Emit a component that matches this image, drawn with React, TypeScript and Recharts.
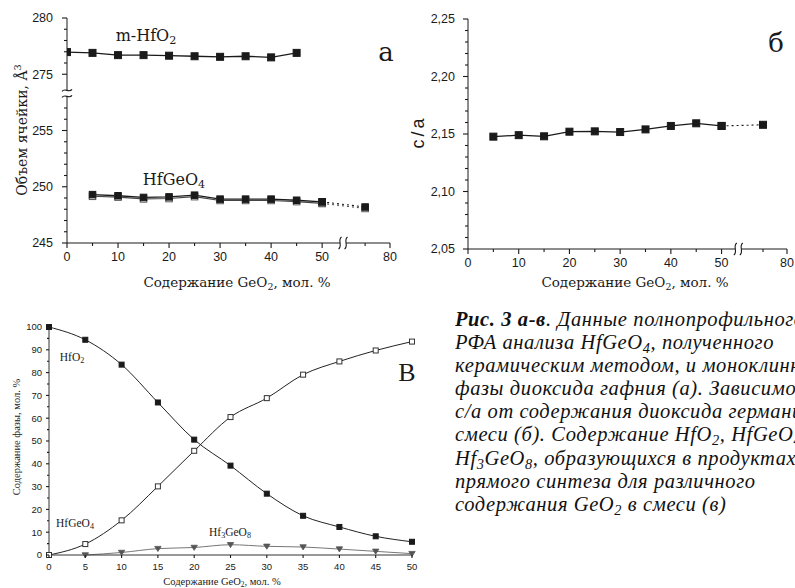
import React from 'react';
import { LineChart, Line, XAxis, YAxis } from 'recharts';

// ---------- Panel а: cell volume, Å³ ----------
const compHfO2A = [0, 5, 10, 15, 20, 25, 30, 35, 40, 45];
const volHfO2 = [276.97, 276.9, 276.7, 276.7, 276.65, 276.6, 276.55, 276.6, 276.5, 276.9];
const compHfGeO4A = [5, 10, 15, 20, 25, 30, 35, 40, 45, 50, 69];
const volHfGeO4Filled = [249.3, 249.2, 249.05, 249.1, 249.25, 248.9, 248.9, 248.9, 248.8, 248.66, 248.2];
const volHfGeO4Open = [249.15, 249.08, 248.92, 248.95, 249.12, 248.78, 248.78, 248.78, 248.68, 248.52, 248.07];

// ---------- Panel б: c/a ----------
const compCA = [5, 10, 15, 20, 25, 30, 35, 40, 45, 50, 69];
const ratioCA = [2.1477, 2.149, 2.148, 2.152, 2.1523, 2.1517, 2.154, 2.157, 2.1593, 2.157, 2.158];

// ---------- Panel в: phase content, mol. % ----------
const compPhase = [0, 5, 10, 15, 20, 25, 30, 35, 40, 45, 50];
const phaseHfO2 = [100, 94.4, 83.5, 66.9, 50.6, 39.2, 26.9, 17.2, 12.3, 8.2, 5.8];
const phaseHfGeO4 = [0, 4.8, 15.2, 30.1, 45.7, 60.5, 68.8, 79.1, 84.9, 89.7, 93.6];
const compHf3GeO8 = [5, 10, 15, 20, 25, 30, 35, 40, 45, 50];
const phaseHf3GeO8 = [0, 1.1, 2.8, 3.3, 4.5, 3.8, 3.5, 2.6, 1.6, 0.6];

// ---------- axis tick labels ----------
const xMajorTop = [0, 10, 20, 30, 40, 50, 80];
const yMajorA = [245, 250, 255, 275, 280];
const yMajorB = [2.05, 2.1, 2.15, 2.2, 2.25];
const xMajorV = [0, 5, 10, 15, 20, 25, 30, 35, 40, 45, 50];
const yMajorV = [0, 10, 20, 30, 40, 50, 60, 70, 80, 90, 100];

// broken-axis helpers (display coordinates)
const brkXA = (v: number) => (v <= 50 ? v : 50 + (v - 50) * (13.3 / 30));
const brkXB = (v: number) => (v <= 50 ? v : 50 + (v - 50) * (12.9 / 30));
const brkYA = (v: number) => (v >= 270 ? v - 15 : v);
const unbrkYA = (v: number) => (v >= 259 ? v + 15 : v);

const zip = (xs: number[], ys: number[], fx = (v: number) => v, fy = (v: number) => v) =>
  xs.map((x, i) => ({ x: fx(x), y: fy(ys[i]) }));

const INK = '#1a1a1a';
const SANS = '"Liberation Sans", Arial, sans-serif';
const SERIF_W = '"DejaVu Serif", serif';
const SERIF_T = '"Liberation Serif", "Times New Roman", serif';

const squareDot = (size: number, fill: string, stroke: string) => (p: any) => {
  const { cx, cy, index } = p;
  if (cx == null || cy == null) return <g key={index} />;
  return (
    <rect key={index} x={cx - size / 2} y={cy - size / 2} width={size} height={size}
      fill={fill} stroke={stroke} strokeWidth={1} />
  );
};
const triDot = (s: number, fill: string) => (p: any) => {
  const { cx, cy, index } = p;
  if (cx == null || cy == null) return <g key={index} />;
  return (
    <path key={index} d={`M${cx - s},${cy - s * 0.7} L${cx + s},${cy - s * 0.7} L${cx},${cy + s * 0.9} Z`}
      fill={fill} stroke={fill} strokeWidth={0.8} />
  );
};

type TickOpts = {
  side: 'bottom' | 'left';
  isMajor: (v: number) => boolean;
  label: (v: number) => string;
  breakAt?: number;
  font: string;
  size: number;
  majorLen: number;
  minorLen: number;
  gap: number;
};

const makeTick = (o: TickOpts) => (props: any) => {
  const { x, y, payload } = props;
  const v = payload.value as number;
  if (o.breakAt !== undefined && Math.abs(v - o.breakAt) < 1e-6) {
    if (o.side === 'bottom') {
      const sq = (cx: number) =>
        `M${cx + 1.5},${y - 6} C${cx - 3},${y - 3} ${cx + 3},${y + 3} ${cx - 1.5},${y + 6}`;
      return (
        <g>
          <rect x={x - 3} y={y - 2} width={6} height={4} fill="#fff" />
          <path d={sq(x - 3)} fill="none" stroke={INK} strokeWidth={1.1} />
          <path d={sq(x + 3)} fill="none" stroke={INK} strokeWidth={1.1} />
        </g>
      );
    }
    const td = (cy: number) =>
      `M${x - 5},${cy + 1} C${x - 2},${cy - 3} ${x + 2},${cy + 3} ${x + 5},${cy - 1}`;
    return (
      <g>
        <rect x={x - 2} y={y - 3} width={4} height={6} fill="#fff" />
        <path d={td(y - 3)} fill="none" stroke={INK} strokeWidth={1.1} />
        <path d={td(y + 3)} fill="none" stroke={INK} strokeWidth={1.1} />
      </g>
    );
  }
  const major = o.isMajor(v);
  const len = major ? o.majorLen : o.minorLen;
  if (o.side === 'bottom') {
    return (
      <g>
        <line x1={x} y1={y} x2={x} y2={y + len} stroke={INK} strokeWidth={1.1} />
        {major && (
          <text x={x} y={y + o.gap} textAnchor="middle" fontFamily={o.font} fontSize={o.size} fill={INK}>
            {o.label(v)}
          </text>
        )}
      </g>
    );
  }
  return (
    <g>
      <line x1={x} y1={y} x2={x - len} y2={y} stroke={INK} strokeWidth={1.1} />
      {major && (
        <text x={x - o.gap} y={y} dy="0.35em" textAnchor="end" fontFamily={o.font} fontSize={o.size} fill={INK}>
          {o.label(v)}
        </text>
      )}
    </g>
  );
};

const Txt = ({ x, y, rot, style, children }: any) => (
  <div
    style={{
      position: 'absolute', left: x, top: y, whiteSpace: 'nowrap', color: INK,
      transform: `translate(-50%, -50%)${rot ? ` rotate(${rot}deg)` : ''}`,
      lineHeight: 1, ...style,
    }}
  >
    {children}
  </div>
);

const near = (a: number, b: number) => Math.abs(a - b) < 1e-6;

function PanelA() {
  const xBreak = 54.1;
  const x80 = brkXA(80);
  const xLast = brkXA(69);
  const xTicks = [0, 5, 10, 15, 20, 25, 30, 35, 40, 45, 50, xBreak, xLast, x80];
  const yTicks = [245, 246, 247, 248, 249, 250, 251, 252, 253, 254, 255, 256, 257, 258.3, 260, 261, 262, 263, 264, 265];
  const n = compHfGeO4A.length;
  const filled = zip(compHfGeO4A, volHfGeO4Filled, brkXA, brkYA);
  const open = zip(compHfGeO4A, volHfGeO4Open, brkXA, brkYA);
  const xTick = makeTick({
    side: 'bottom', breakAt: xBreak,
    isMajor: (v) => xMajorTop.map(brkXA).some((m) => near(m, v)),
    label: (v) => (near(v, x80) ? '80' : String(Math.round(v))),
    font: SANS, size: 12.5, majorLen: 5, minorLen: 3, gap: 18,
  });
  const yTick = makeTick({
    side: 'left', breakAt: 258.3,
    isMajor: (v) => yMajorA.map(brkYA).some((m) => near(m, v)),
    label: (v) => String(unbrkYA(v)),
    font: SANS, size: 12.5, majorLen: 5, minorLen: 3, gap: 14,
  });
  return (
    <div style={{ position: 'absolute', left: 0, top: 0 }}>
      <LineChart width={400} height={290} margin={{ top: 18, right: 10, bottom: 17, left: 27 }}>
        <XAxis type="number" dataKey="x" domain={[0, x80]} ticks={xTicks} interval={0} tick={xTick}
          tickLine={false} tickSize={0} tickMargin={0} height={30} stroke={INK} allowDataOverflow />
        <YAxis type="number" dataKey="y" domain={[245, 265]} ticks={yTicks} interval={0} tick={yTick}
          tickLine={false} tickSize={0} tickMargin={0} width={40} stroke={INK} allowDataOverflow />
        <Line data={zip(compHfO2A, volHfO2, brkXA, brkYA)} dataKey="y" stroke={INK} strokeWidth={1.3}
          dot={squareDot(7, INK, INK)} isAnimationActive={false} />
        <Line data={open.slice(0, n - 1)} dataKey="y" stroke="#444" strokeWidth={1.1}
          dot={squareDot(6.5, '#fff', '#555')} isAnimationActive={false} />
        <Line data={open.slice(n - 2)} dataKey="y" stroke="#444" strokeWidth={1} strokeDasharray="2 3"
          dot={squareDot(6.5, '#fff', '#555')} isAnimationActive={false} />
        <Line data={filled.slice(0, n - 1)} dataKey="y" stroke={INK} strokeWidth={1.3}
          dot={squareDot(6.5, INK, INK)} isAnimationActive={false} />
        <Line data={filled.slice(n - 2)} dataKey="y" stroke={INK} strokeWidth={1.1} strokeDasharray="2 3"
          dot={squareDot(6.5, INK, INK)} isAnimationActive={false} />
      </LineChart>
    </div>
  );
}

function PanelB() {
  const xBreak = 53.3;
  const x80 = brkXB(80);
  const xLast = brkXB(69);
  const xTicks = [0, 5, 10, 15, 20, 25, 30, 35, 40, 45, 50, xBreak, xLast, x80];
  const yTicks: number[] = [];
  for (let i = 0; i <= 20; i++) yTicks.push(Math.round((2.05 + i * 0.01) * 100) / 100);
  const pts = zip(compCA, ratioCA, brkXB);
  const n = pts.length;
  const xTick = makeTick({
    side: 'bottom', breakAt: xBreak,
    isMajor: (v) => xMajorTop.map(brkXB).some((m) => near(m, v)),
    label: (v) => (near(v, x80) ? '80' : String(Math.round(v))),
    font: SANS, size: 12.5, majorLen: 5, minorLen: 3, gap: 18,
  });
  const yTick = makeTick({
    side: 'left',
    isMajor: (v) => yMajorB.some((m) => near(m, v)),
    label: (v) => v.toFixed(2).replace('.', ','),
    font: SANS, size: 12.5, majorLen: 5, minorLen: 3, gap: 13,
  });
  return (
    <div style={{ position: 'absolute', left: 400, top: 0 }}>
      <LineChart width={395} height={290} margin={{ top: 19, right: 8, bottom: 11, left: 23 }}>
        <XAxis type="number" dataKey="x" domain={[0, x80]} ticks={xTicks} interval={0} tick={xTick}
          tickLine={false} tickSize={0} tickMargin={0} height={30} stroke={INK} allowDataOverflow />
        <YAxis type="number" dataKey="y" domain={[2.05, 2.25]} ticks={yTicks} interval={0} tick={yTick}
          tickLine={false} tickSize={0} tickMargin={0} width={45} stroke={INK} allowDataOverflow />
        <Line data={pts.slice(0, n - 1)} dataKey="y" stroke={INK} strokeWidth={1.3}
          dot={squareDot(7, INK, INK)} isAnimationActive={false} />
        <Line data={pts.slice(n - 2)} dataKey="y" stroke={INK} strokeWidth={1.1} strokeDasharray="2 3"
          dot={squareDot(7, INK, INK)} isAnimationActive={false} />
      </LineChart>
    </div>
  );
}

function PanelV() {
  const yTicks: number[] = [];
  for (let i = 0; i <= 100; i += 5) yTicks.push(i);
  const xTick = makeTick({
    side: 'bottom',
    isMajor: (v) => xMajorV.includes(v),
    label: (v) => String(v),
    font: SANS, size: 9.5, majorLen: 3, minorLen: 2, gap: 15,
  });
  const yTick = makeTick({
    side: 'left',
    isMajor: (v) => yMajorV.includes(v),
    label: (v) => String(v),
    font: SANS, size: 9.5, majorLen: 3, minorLen: 2, gap: 7,
  });
  return (
    <div style={{ position: 'absolute', left: 0, top: 290 }}>
      <LineChart width={420} height={298} margin={{ top: 37, right: 8, bottom: 3, left: 9 }}>
        <XAxis type="number" dataKey="x" domain={[0, 50]} ticks={xMajorV} interval={0} tick={xTick}
          tickLine={false} tickSize={0} tickMargin={0} height={30} stroke="#333" />
        <YAxis type="number" dataKey="y" domain={[0, 100]} ticks={yTicks} interval={0} tick={yTick}
          tickLine={false} tickSize={0} tickMargin={0} width={40} stroke="#333" />
        <Line data={zip(compHf3GeO8, phaseHf3GeO8)} dataKey="y" type="monotone" stroke="#777" strokeWidth={1}
          dot={triDot(3.2, '#555')} isAnimationActive={false} />
        <Line data={zip(compPhase, phaseHfGeO4)} dataKey="y" type="monotone" stroke="#222" strokeWidth={1}
          dot={squareDot(5, '#fff', '#333')} isAnimationActive={false} />
        <Line data={zip(compPhase, phaseHfO2)} dataKey="y" type="monotone" stroke="#222" strokeWidth={1}
          dot={squareDot(5, INK, INK)} isAnimationActive={false} />
      </LineChart>
    </div>
  );
}

export default function App() {
  const sub = { fontSize: '0.7em', position: 'relative', top: '0.28em', lineHeight: 0 } as React.CSSProperties;
  return (
    <div style={{ position: 'absolute', left: 0, top: 0, width: 795, height: 588, overflow: 'hidden', background: '#fff' }}>
      <PanelA />
      <PanelB />
      <PanelV />

      {/* Panel а texts */}
      <Txt x={22} y={130} rot={-90} style={{ fontFamily: SERIF_W, fontSize: 14 }}>
        Объем ячейки, Å<sup style={{ fontSize: '0.7em', lineHeight: 0 }}>3</sup>
      </Txt>
      <Txt x={237} y={283} style={{ fontFamily: SERIF_W, fontSize: 13.5 }}>
        Содержание GeO<span style={sub}>2</span>, мол. %
      </Txt>
      <Txt x={146} y={36} style={{ fontFamily: SERIF_W, fontSize: 16 }}>
        m-HfO<span style={sub}>2</span>
      </Txt>
      <Txt x={174} y={180} style={{ fontFamily: SERIF_W, fontSize: 16 }}>
        HfGeO<span style={sub}>4</span>
      </Txt>
      <Txt x={386} y={52} style={{ fontFamily: SERIF_W, fontSize: 26 }}>а</Txt>

      {/* Panel б texts */}
      <Txt x={418} y={132} rot={-90} style={{ fontFamily: SANS, fontSize: 18, letterSpacing: 3 }}>c/a</Txt>
      <Txt x={635} y={283} style={{ fontFamily: SERIF_W, fontSize: 13.5 }}>
        Содержание GeO<span style={sub}>2</span>, мол. %
      </Txt>
      <Txt x={776} y={43} style={{ fontFamily: SERIF_W, fontSize: 26 }}>б</Txt>

      {/* Panel в texts */}
      <Txt x={17} y={437} rot={-90} style={{ fontFamily: SERIF_T, fontSize: 10.5 }}>
        Содержание фазы, мол. %
      </Txt>
      <Txt x={222} y={582} style={{ fontFamily: SERIF_T, fontSize: 10.5 }}>
        Содержание GeO<span style={sub}>2</span>, мол. %
      </Txt>
      <Txt x={72} y={358} style={{ fontFamily: SERIF_T, fontSize: 11.5 }}>
        HfO<span style={sub}>2</span>
      </Txt>
      <Txt x={75} y={524} style={{ fontFamily: SERIF_T, fontSize: 11.5 }}>
        HfGeO<span style={sub}>4</span>
      </Txt>
      <Txt x={230} y={533} style={{ fontFamily: SERIF_T, fontSize: 11.5 }}>
        Hf<span style={sub}>3</span>GeO<span style={sub}>8</span>
      </Txt>
      <Txt x={407} y={373} style={{ fontFamily: SERIF_T, fontSize: 26 }}>В</Txt>

      {/* Caption */}
      <div
        style={{
          position: 'absolute', left: 455, top: 308, width: 340, overflow: 'hidden', whiteSpace: 'nowrap',
          fontFamily: SERIF_T, fontStyle: 'italic', fontSize: 20.5, letterSpacing: 0.6,
          lineHeight: '23.1px', color: '#111',
        }}
      >
        <div><b>Рис. 3 а-в</b>. Данные полнопрофильного</div>
        <div>РФА анализа HfGeO<span style={sub}>4</span>, полученного</div>
        <div>керамическим методом, и моноклинной</div>
        <div>фазы диоксида гафния (а). Зависимость</div>
        <div>c/a от содержания диоксида германия в</div>
        <div>смеси (б). Содержание HfO<span style={sub}>2</span>, HfGeO<span style={sub}>4</span> и</div>
        <div>Hf<span style={sub}>3</span>GeO<span style={sub}>8</span>, образующихся в продуктах</div>
        <div>прямого синтеза для различного</div>
        <div>содержания GeO<span style={sub}>2</span> в смеси (в)</div>
      </div>
    </div>
  );
}
